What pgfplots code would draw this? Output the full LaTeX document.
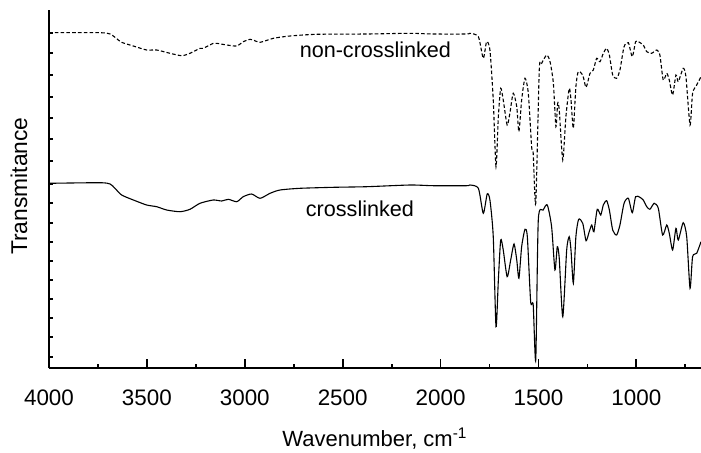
\documentclass[border=0pt]{standalone}
\usepackage{pgfplots}
\pgfplotsset{compat=1.18}
\usepackage{fontspec}
\setmainfont{Liberation Sans}
\begin{document}
\begin{tikzpicture}
\begin{axis}[
  scale only axis,
  width=326pt, height=179pt,
  x dir=reverse,
  xmin=670, xmax=4000,
  ymin=0, ymax=358,
  axis x line*=bottom,
  axis y line*=left,
  axis line style={line width=1.1pt,-},
  tick align=inside,
  major tick length=4.6pt,
  minor tick length=2.2pt,
  tick style={line width=0.9pt,black},
  xtick={1000,1500,2000,2500,3000,3500,4000},
  minor xtick={750,1250,1750,2250,2750,3250,3750},
  ytick=\empty,
  extra y ticks={11.3,30.7,49.7,68.7,88,107.3,126.3,145.3,164.7,184,207.3,228.7,250.3,271.3,293,314.7,335.3},
  extra y tick labels={},
  extra y tick style={major tick length=2.2pt},
  /pgf/number format/assume math mode=true,
  xticklabel style={font=\fontsize{11.2pt}{13pt}\selectfont,anchor=base,yshift=-18.7pt},
  scaled x ticks=false,
  xticklabel={\pgfmathprintnumber[fixed,1000 sep={}]{\tick}},
  xlabel={Wavenumber, cm\textsuperscript{-1}},
  ylabel={Transmitance},
  every axis x label/.style={at={(axis description cs:0.5,0)},anchor=base,yshift=-39.3pt,font=\fontsize{11pt}{13pt}\selectfont},
  every axis y label/.style={at={(axis description cs:-0.046,0.508)},anchor=center,rotate=90,font=\fontsize{11.4pt}{13pt}\selectfont},
  clip=true,
]
% non-crosslinked (dashed)
\addplot[black, line width=0.55pt, dash pattern=on 1.8pt off 1.1pt, smooth, tension=0.4] coordinates {
(4000,335.3) (3740,335.3) (3688,334) (3663,330.7) (3629,325.7) (3569,322) (3501,318) (3450,318)
(3382,314.7) (3322,312.3) (3280,314.7) (3229,319.7) (3212,319.7) (3161,324.7) (3143,324.7)
(3092,323) (3041,322) (3008,326.3) (2973,328.7) (2957,328) (2922,325.7) (2854,329.7) (2769,332)
(2633,333.7) (2377,334) (2156,334.7) (2037,334) (1867,334) (1850,334.7) (1807,331.3)
(1782,309.7) (1765,326.3) (1748,318) (1731,268) (1717,201.3) (1705,251.3) (1693,279.7)
(1680,268) (1660,243) (1646,255) (1629,274.7) (1611,261.3) (1600,236.3) (1586,268)
(1569,289.7) (1552,274.7) (1535,221.3) (1527,214.7) (1514,164.7) (1496,298) (1484,304.7)
(1458,313) (1441,306.3) (1424,284.7) (1411,241.3) (1402,264.7) (1394,258) (1376,208)
(1360,251.3) (1343,279.7) (1334,268) (1322,239.7) (1309,281.3) (1297,296.3) (1274,293)
(1257,280.7) (1237,294.7) (1220,298) (1203,309.7) (1186,306.3) (1169,314.7) (1152,319.7)
(1138,313) (1121,293) (1101,289.7) (1084,298) (1063,321.3) (1041,325.3) (1021,311.3)
(1004,326.3) (990,326.3) (965,323) (947,316.3) (922,314.7) (896,318) (880,313) (863,288)
(845,294.7) (832,288) (815,273) (798,293) (786,286.3) (761,299.7) (747,291.3) (726,243)
(713,274.7) (692,283) (670,291.3)
};
% crosslinked (solid)
\addplot[black, line width=0.55pt, smooth, tension=0.4] coordinates {
(4000,184.7) (3740,185.3) (3688,184) (3663,179.7) (3629,173) (3569,168) (3501,163) (3450,161.3)
(3399,158) (3331,156.3) (3280,158.7) (3229,164.7) (3161,168) (3118,167) (3084,168.7)
(3041,166.3) (3008,171.3) (2965,174) (2922,169.7) (2871,174.7) (2820,178) (2718,179.7)
(2548,180.7) (2377,181.3) (2156,183) (2037,182.3) (1867,182.3) (1850,183) (1807,179.7)
(1782,154.7) (1762,174) (1748,168) (1731,131.3) (1717,41.3) (1705,88) (1693,128) (1680,118)
(1660,91.3) (1642,108) (1625,124) (1611,108) (1600,89.7) (1586,121.3) (1569,138.7)
(1557,131.3) (1540,66.3) (1527,63) (1514,8) (1501,148) (1476,158) (1455,163) (1433,141.3)
(1416,98) (1404,121.3) (1394,109.7) (1376,51.3) (1356,118) (1343,131.3) (1334,118)
(1322,84.7) (1309,131.3) (1295,148.7) (1274,144.7) (1257,127.3) (1241,136.3) (1228,143)
(1217,136.3) (1200,158.7) (1182,153) (1169,163) (1152,167.3) (1138,158) (1121,138)
(1101,133) (1084,143) (1063,164.7) (1041,169.7) (1021,155.3) (1004,171.3) (982,170.7)
(965,168) (947,161.3) (931,158.7) (909,164.7) (888,159.7) (866,133) (845,143) (832,134.7)
(815,118) (798,139.7) (786,128) (761,145.3) (743,131.3) (726,79.7) (713,111.3) (692,114.7)
(670,126.3)
};
\node[anchor=base, font=\fontsize{10.8pt}{12pt}\selectfont, inner sep=0pt] at (axis cs:2333,310.7) {non-crosslinked};
\node[anchor=base, font=\fontsize{10.8pt}{12pt}\selectfont, inner sep=0pt] at (axis cs:2412,152) {crosslinked};
\end{axis}
\pgfresetboundingbox
\path ([shift={(-24.5pt,-42pt)}]current axis.south west) rectangle ([shift={(0pt,5pt)}]current axis.north east);
\end{tikzpicture}
\end{document}
